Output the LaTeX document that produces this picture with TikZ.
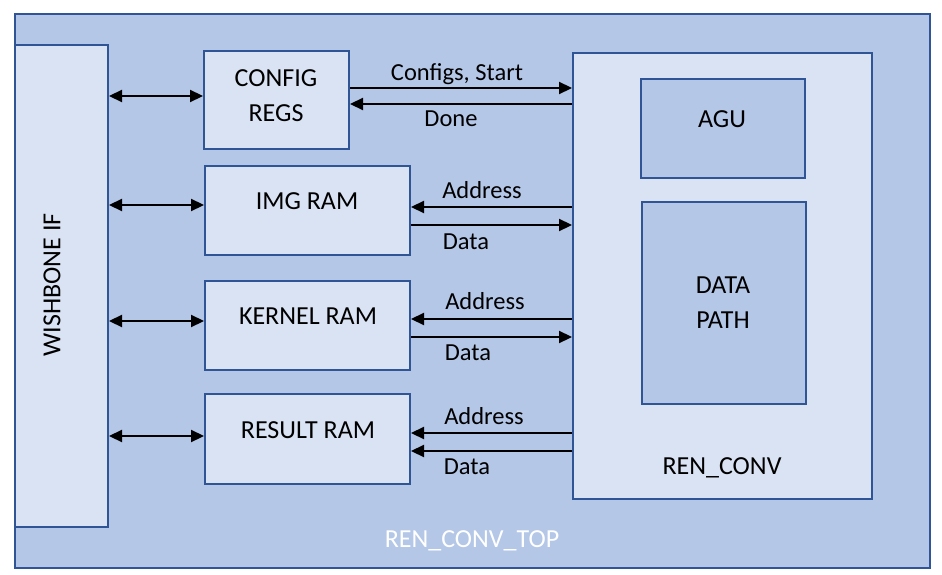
\documentclass[tikz,border=0pt]{standalone}
\usepackage{fontspec}
\setmainfont{Carlito}
\usetikzlibrary{arrows.meta,calc}
\definecolor{outerfill}{HTML}{B4C7E7}
\definecolor{innerfill}{HTML}{DAE3F3}
\definecolor{bord}{HTML}{2F5597}
\tikzset{
  blk/.style={draw=bord,line width=2pt,inner sep=0pt},
  outerblk/.style={blk,fill=outerfill},
  innerblk/.style={blk,fill=innerfill},
  txt/.style={inner sep=0pt,font=\fontsize{26}{31}\selectfont},
  lbl/.style={inner sep=0pt,font=\fontsize{24.5}{29}\selectfont},
  arr/.style={line width=2.2pt,-{Triangle[length=13pt,width=12pt]}},
  darr/.style={line width=2.2pt,{Triangle[length=13pt,width=12pt]}-{Triangle[length=13pt,width=12pt]}},
}
\newcommand{\boxat}[6]{\node[#2,minimum width=#5-#3,minimum height=#6-#4] (#1) at ({(#3+#5)/2},{(#4+#6)/2}) {};}
\begin{document}
\begin{tikzpicture}[x=1pt,y=-1pt]
\useasboundingbox (0,0) rectangle (942,575);
\fill[white] (0,0) rectangle (942,575);
\boxat{top}{outerblk}{15}{14}{930}{568}
\boxat{wb}{innerblk}{15}{45}{108}{527}
\boxat{cfg}{innerblk}{204}{51}{349}{149}
\boxat{img}{innerblk}{205}{166}{410}{255}
\boxat{ker}{innerblk}{205}{281}{410}{370}
\boxat{res}{innerblk}{205}{394}{410}{484}
\boxat{conv}{innerblk}{573}{53}{872}{499}
\boxat{agu}{outerblk}{641}{79}{805}{178}
\boxat{dp}{outerblk}{642}{202}{806}{404}

\node[txt,rotate=90] (wbt) at (52,285) {WISHBONE IF};
\node[txt,align=center] (cfgt) at (276,96) {CONFIG\\[4pt]REGS};
\node[txt] (imgt) at (307,201) {IMG RAM};
\node[txt] (kert) at (308,316) {KERNEL RAM};
\node[txt] (rest) at (308,430) {RESULT RAM};
\node[txt] (agut) at (722,119) {AGU};
\node[txt,align=center] (dpt) at (723,303) {DATA\\[4pt]PATH};
\node[txt] (convt) at (722,468) {REN\_CONV};
\node[txt,text=white] (topt) at (472,541) {REN\_CONV\_TOP};

% wishbone double arrows
\draw[darr] (wb.east |- 0,96) -- (cfg.west |- 0,96);
\draw[darr] (wb.east |- 0,205) -- (img.west |- 0,205);
\draw[darr] (wb.east |- 0,321) -- (ker.west |- 0,321);
\draw[darr] (wb.east |- 0,436) -- (res.west |- 0,436);

% config
\draw[arr] (cfg.east |- 0,88) -- (conv.west |- 0,88);
\draw[arr] (conv.west |- 0,104) -- (cfg.east |- 0,104);
\node[lbl] (l1) at (457,74) {Configs, Start};
\node[lbl] (l2) at (451,119) {Done};

% img
\draw[arr] (conv.west |- 0,207) -- (img.east |- 0,207);
\draw[arr] (img.east |- 0,225) -- (conv.west |- 0,225);
\node[lbl] (l3) at (482,190) {Address};
\node[lbl] (l4) at (466,242) {Data};

% kernel
\draw[arr] (conv.west |- 0,319) -- (ker.east |- 0,319);
\draw[arr] (ker.east |- 0,337) -- (conv.west |- 0,337);
\node[lbl] (l5) at (485,301) {Address};
\node[lbl] (l6) at (468,353) {Data};

% result
\draw[arr] (conv.west |- 0,433) -- (res.east |- 0,433);
\draw[arr] (conv.west |- 0,451) -- (res.east |- 0,451);
\node[lbl] (l7) at (484,416) {Address};
\node[lbl] (l8) at (467,467) {Data};
\end{tikzpicture}
\end{document}
